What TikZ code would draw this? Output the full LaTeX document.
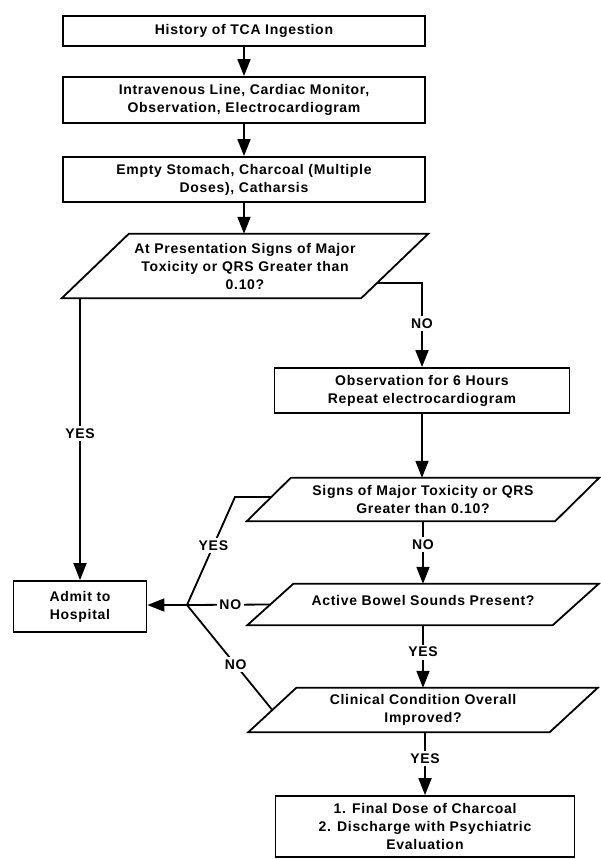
\documentclass[tikz,border=0pt]{standalone}
\usepackage{fontspec}
\setmainfont{Liberation Sans}[LetterSpace=5]
\usetikzlibrary{arrows.meta,calc}
\tikzset{
  every node/.style={font=\fontsize{14}{18}\selectfont\bfseries, align=center},
  ln/.style={line width=1.8pt},
  arr/.style={ln, -{Triangle[length=17pt,width=13pt]}},
  boxn/.style={draw, line width=1.8pt, inner sep=2pt},
  parn/.style={inner sep=2pt},
  lbl/.style={fill=white, inner sep=2.5pt},
}
\newcommand{\paral}[2]{% node name, offset
  \draw[ln, line join=miter] ([xshift=-#2/2]#1.south west) -- ([xshift=-#2/2]#1.south east)
    -- ([xshift=#2/2]#1.north east) -- ([xshift=#2/2]#1.north west) -- cycle;}
\begin{document}
\begin{tikzpicture}[x=1pt,y=-1pt]
\useasboundingbox[fill=white] (0,0) rectangle (601,859);

% boxes
\node[boxn, minimum width=362pt, minimum height=30pt] (b1) at (244,31) {History of TCA Ingestion};
\node[boxn, minimum width=362pt, minimum height=46pt] (b2) at (244,100) {Intravenous Line, Cardiac Monitor,\\Observation, Electrocardiogram};
\node[boxn, minimum width=362pt, minimum height=45pt] (b3) at (244,179.5) {Empty Stomach, Charcoal (Multiple\\Doses), Catharsis};

% decision 1
\node[parn, minimum width=299pt, minimum height=64pt] (d1) at (245,266) {At Presentation Signs of Major\\Toxicity or QRS Greater than\\0.10?};
\paral{d1}{67pt}

\node[boxn, minimum width=295pt, minimum height=45pt] (obs) at (422,390.5) {Observation for 6 Hours\\Repeat electrocardiogram};

\node[parn, minimum width=308pt, minimum height=43pt] (d2) at (423,499.5) {Signs of Major Toxicity or QRS\\Greater than 0.10?};
\paral{d2}{44pt}

\node[parn, minimum width=305pt, minimum height=41pt] (d3) at (423,604.5) {};
\node (d3t) at (423,600) {Active Bowel Sounds Present?};
\paral{d3}{46pt}

\node[parn, minimum width=301pt, minimum height=44pt] (d4) at (423,710) {Clinical Condition Overall\\Improved?};
\paral{d4}{48pt}

\node[boxn, minimum width=299pt, minimum height=61pt] (fin) at (425,826.5) {1. Final Dose of Charcoal\\2. Discharge with Psychiatric\\Evaluation};

\node[boxn, minimum width=133pt, minimum height=51pt] (adm) at (80,606.5) {Admit to\\Hospital};

% connectors, main column
\draw[arr] (b1.south) -- (b2.north);
\draw[arr] (b2.south) -- (b3.north);
\draw[arr] (b3.south) -- (b3.south |- d1.north);

% YES from decision 1
\draw[arr] (adm.north |- d1.south) -- node[lbl, pos=0.48] {YES} (adm.north);

% NO from decision 1
\coordinate (n1) at ($(d1.east)+(-17.8,17)$);
\draw[arr] (n1) -| node[lbl, pos=0.74] {NO} (obs.north);

\draw[arr] (obs.south) -- (obs.south |- d2.north);
\draw[arr] (d2.south) -- node[lbl, pos=0.37] {NO} (d2.south |- d3.north);
\draw[arr] (d3.south) -- node[lbl, pos=0.43] {YES} (d3.south |- d4.north);
\draw[arr] (d4.south -| fin.north) -- node[lbl, pos=0.42] {YES} (fin.north);

% left branches
\coordinate (j) at (187,605);
\coordinate (y2s) at ($(d2.west)+(2.6,-2.5)$);
\coordinate (y2k) at (235,497);
\draw[ln] (y2s) -- (y2k) -- node[lbl, pos=0.45] {YES} (j);
\draw[ln] (d3.west) -- node[lbl, pos=0.48] {NO} (j);
\draw[ln] (d4.west) -- node[lbl, pos=0.43] {NO} (j);
\draw[arr] (j) -- (j -| adm.east);
\end{tikzpicture}
\end{document}
